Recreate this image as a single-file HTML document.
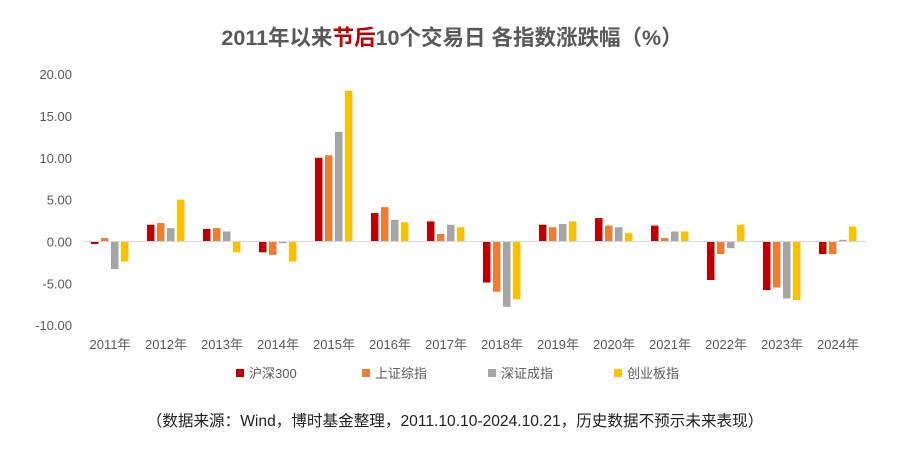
<!DOCTYPE html>
<html><head><meta charset="utf-8"><style>
body{margin:0;background:#fff;}
svg text{font-family:"Liberation Sans","Noto Sans CJK SC",sans-serif;}
</style></head><body>
<svg width="904" height="452" viewBox="0 0 904 452">
<text x="452" y="45" text-anchor="middle" font-size="21.5" font-weight="bold" fill="#595959">2011年以来<tspan fill="#c00000">节后</tspan>10个交易日 各指数涨跌幅（%）</text>
<g id="yaxis"></g>
<g id="bars"></g>
<g id="xaxis"></g>
<g id="legend"></g>
<text x="455" y="426" text-anchor="middle" font-size="15.6" fill="#222">（数据来源：Wind，博时基金整理，2011.10.10-2024.10.21，历史数据不预示未来表现）</text>
</svg>
<script>
const categories=["2011年","2012年","2013年","2014年","2015年","2016年","2017年","2018年","2019年","2020年","2021年","2022年","2023年","2024年"];
const seriesNames=["沪深300","上证综指","深证成指","创业板指"];
const hs300=[-0.3,2.0,1.5,-1.3,10.0,3.4,2.4,-4.9,2.0,2.8,1.9,-4.6,-5.8,-1.5];
const szzz=[0.4,2.2,1.6,-1.6,10.3,4.1,0.9,-6.0,1.7,1.9,0.4,-1.5,-5.5,-1.5];
const szcz=[-3.3,1.6,1.2,-0.2,13.1,2.6,2.0,-7.8,2.1,1.7,1.2,-0.8,-6.8,0.2];
const cybz=[-2.4,5.0,-1.3,-2.4,18.0,2.3,1.7,-6.9,2.4,1.0,1.2,2.0,-7.0,1.8];
const yTicks=[20,15,10,5,0,-5,-10];
const series=[hs300,szzz,szcz,cybz];
const colors=["#c00000","#ed7d31","#a5a5a5","#ffc000"];
const NS="http://www.w3.org/2000/svg";
const x0=82,cw=56,zeroY=241.5,ppu=8.37;
const y=v=>zeroY-v*ppu;
function mk(t,a,p){const e=document.createElementNS(NS,t);for(const k in a)e.setAttribute(k,a[k]);p.appendChild(e);return e;}
const ya=document.getElementById('yaxis');
yTicks.forEach(v=>{const t=mk('text',{x:72,y:y(v)+5,'text-anchor':'end','font-size':13,fill:'#595959'},ya);t.textContent=v.toFixed(2);

});
const bg=document.getElementById('bars');
series.forEach((s,si)=>s.forEach((v,i)=>{
const bx=x0+i*cw+9+si*10;
const r=mk('rect',{x:bx,y:Math.min(y(v),zeroY),width:7.5,height:Math.abs(y(v)-zeroY),fill:colors[si]},bg);


}));
const xa=document.getElementById('xaxis');
const ln=mk('line',{x1:x0,x2:x0+14*cw,y1:zeroY,y2:zeroY,stroke:'#d9d9d9','stroke-width':1},xa);


categories.forEach((c,i)=>{const t=mk('text',{x:x0+i*cw+cw/2,y:349,'text-anchor':'middle','font-size':13,fill:'#595959'},xa);t.textContent=c;

});
const lg=document.getElementById('legend');
const lx=[236,362,488,614];
seriesNames.forEach((n,i)=>{
const r=mk('rect',{x:lx[i],y:369,width:8,height:8,fill:colors[i]},lg);


const t=mk('text',{x:lx[i]+13,y:378,'font-size':13,fill:'#595959'},lg);t.textContent=n;


});
</script>
</body></html>
